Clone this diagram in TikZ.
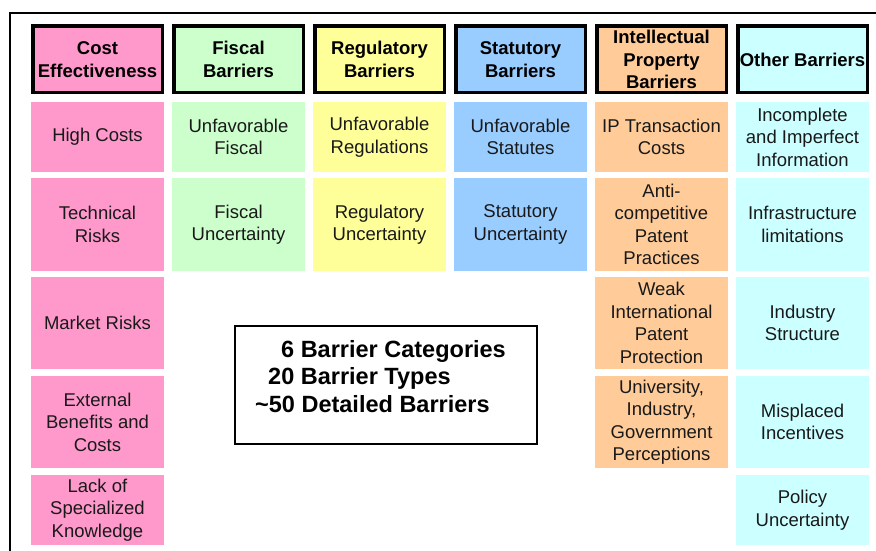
\documentclass[tikz,border=0pt]{standalone}
\usepackage{fontspec}
\setmainfont{Liberation Sans}
\definecolor{cpink}{HTML}{FF99CC}
\definecolor{cgreen}{HTML}{CCFFCC}
\definecolor{cyellow}{HTML}{FFFF99}
\definecolor{cblue}{HTML}{99CCFF}
\definecolor{corange}{HTML}{FFCC99}
\definecolor{ccyan}{HTML}{CCFFFF}
\begin{document}
\begin{tikzpicture}[x=1pt,y=-1pt,
  hdr/.style={draw=black, line width=3.5pt, minimum width=129.5pt, minimum height=66.5pt,
    inner sep=0pt, align=center, font=\fontsize{18.5}{22.5}\selectfont\bfseries},
  cellbox/.style={minimum width=133pt, inner sep=0pt, align=center,
    font=\fontsize{18.5}{22.5}\selectfont, text=black!90},
  rA/.style={minimum height=70pt},
  rB/.style={minimum height=93pt},
  rC/.style={minimum height=92pt},
  summ/.style={anchor=base west, inner sep=0pt, font=\fontsize{23.5}{27.5}\selectfont\bfseries}]
\useasboundingbox (0,0) rectangle (876,551);
% outer frame
\coordinate (fbl) at (10,551);
\coordinate (ftl) at (10,13);
\coordinate (ftr) at (876,13);
\draw[line width=2pt] (fbl) -- (ftl) -- (ftr);
% headers
\node[hdr, fill=cpink]   (h0) at (97.5,59.5)  {Cost\\Effectiveness};
\node[hdr, fill=cgreen]  (h1) at (238.5,59.5) {Fiscal\\Barriers};
\node[hdr, fill=cyellow] (h2) at (379.5,59.5) {Regulatory\\Barriers};
\node[hdr, fill=cblue]   (h3) at (520.5,59.5) {Statutory\\Barriers};
\node[hdr, fill=corange] (h4) at (661.5,59.5) {Intellectual\\Property\\Barriers};
\node[hdr, fill=ccyan]   (h5) at (802.5,59.5) {Other Barriers};
% column 0
\node[cellbox, rA, fill=cpink] (c01) at (97.5,137)   {High Costs};
\node[cellbox, rB, fill=cpink] (c02) at (97.5,224.5) {Technical\\Risks};
\node[cellbox, rC, fill=cpink] (c03) at (97.5,323)   {Market Risks};
\node[cellbox, rC, fill=cpink] (c04) at (97.5,422)   {External\\Benefits and\\Costs};
\node[cellbox, rA, fill=cpink] (c05) at (97.5,510)   {Lack of\\Specialized\\Knowledge};
% column 1
\node[cellbox, rA, fill=cgreen] (c11) at (238.5,137)   {Unfavorable\\Fiscal};
\node[cellbox, rB, fill=cgreen] (c12) at (238.5,224.5) {Fiscal\\Uncertainty};
% column 2
\node[cellbox, rA, fill=cyellow] (c21) at (379.5,137)   {Unfavorable\\Regulations};
\node[cellbox, rB, fill=cyellow] (c22) at (379.5,224.5) {Regulatory\\Uncertainty};
% column 3
\node[cellbox, rA, fill=cblue] (c31) at (520.5,137)   {Unfavorable\\Statutes};
\node[cellbox, rB, fill=cblue] (c32) at (520.5,224.5) {Statutory\\Uncertainty};
% column 4
\node[cellbox, rA, fill=corange] (c41) at (661.5,137)   {IP Transaction\\Costs};
\node[cellbox, rB, fill=corange] (c42) at (661.5,224.5) {Anti-\\competitive\\Patent\\Practices};
\node[cellbox, rC, fill=corange] (c43) at (661.5,323)   {Weak\\International\\Patent\\Protection};
\node[cellbox, rC, fill=corange] (c44) at (661.5,422)   {University,\\Industry,\\Government\\Perceptions};
% column 5
\node[cellbox, rA, fill=ccyan] (c51) at (802.5,137)   {Incomplete\\and Imperfect\\Information};
\node[cellbox, rB, fill=ccyan] (c52) at (802.5,224.5) {Infrastructure\\limitations};
\node[cellbox, rC, fill=ccyan] (c53) at (802.5,323)   {Industry\\Structure};
\node[cellbox, rC, fill=ccyan] (c54) at (802.5,422)   {Misplaced\\Incentives};
\node[cellbox, rA, fill=ccyan] (c55) at (802.5,510)   {Policy\\Uncertainty};
% summary box
\node[draw=black, line width=2pt, minimum width=302pt, minimum height=118pt, inner sep=0pt] (sbox) at (386,385) {};
\node[summ] (s1) at (281,357) {6 Barrier Categories};
\node[summ] (s2) at (268,384.5) {20 Barrier Types};
\node[summ] (s3) at (255,412) {\textasciitilde50 Detailed Barriers};
\end{tikzpicture}
\end{document}
